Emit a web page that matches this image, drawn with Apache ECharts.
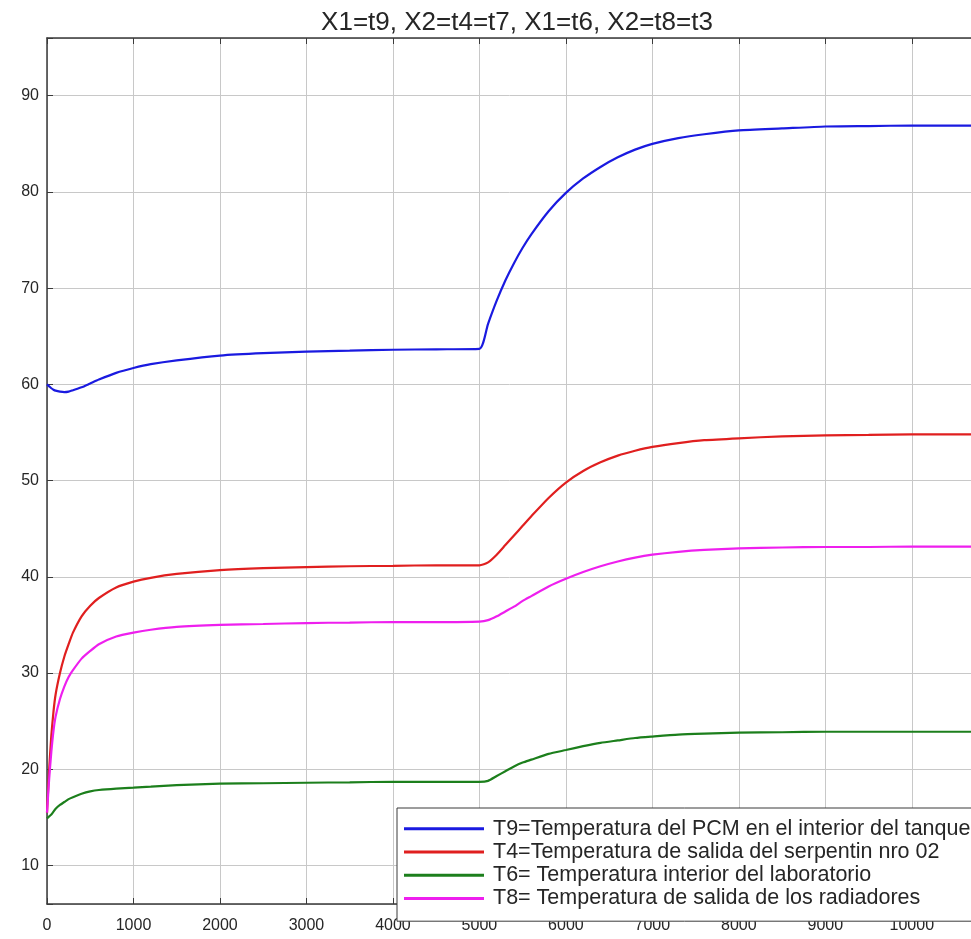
<!DOCTYPE html>
<html>
<head>
<meta charset="utf-8">
<title>Temperaturas</title>
<script src="https://cdn.jsdelivr.net/npm/echarts@6/dist/echarts.min.js"></script>
<style>
  html, body { margin: 0; padding: 0; background: #ffffff; overflow: hidden; }
  #chart { width: 971px; height: 939px; }
</style>
</head>
<body>
<div id="chart"></div>
<script>
// Simulation time (s)
const time = [0, 25, 50, 75, 100, 150, 200, 250, 300, 400, 500, 600, 800, 1000, 1200, 1500,
  2000, 2500, 3000, 3500, 4000, 4500, 5000, 5100, 5200, 5300, 5400, 5500, 5600, 5800,
  6000, 6200, 6400, 6600, 6800, 7000, 7300, 7600, 8000, 8500, 9000, 9500, 10000, 10800];

// T9: PCM temperature inside the tank
const t9 = [60.0, 59.8, 59.6, 59.45, 59.35, 59.25, 59.2, 59.25, 59.4, 59.7, 60.1, 60.5, 61.2, 61.7, 62.1, 62.5,
  63.0, 63.25, 63.4, 63.5, 63.6, 63.65, 63.7, 66.3, 68.7, 70.8, 72.6, 74.2, 75.6, 78.0,
  79.9, 81.4, 82.6, 83.6, 84.4, 85.0, 85.6, 86.0, 86.4, 86.6, 86.8, 86.85, 86.9, 86.9];

// T4: coil no. 02 outlet temperature
const t4 = [15.5, 20.0, 23.5, 26.0, 27.8, 30.0, 31.7, 33.0, 34.2, 35.9, 37.0, 37.8, 38.9, 39.5, 39.9, 40.3,
  40.7, 40.9, 41.0, 41.1, 41.15, 41.2, 41.2, 41.5, 42.3, 43.3, 44.3, 45.3, 46.3, 48.2,
  49.8, 51.0, 51.9, 52.6, 53.1, 53.5, 53.9, 54.2, 54.4, 54.6, 54.7, 54.75, 54.8, 54.8];

// T6: laboratory indoor temperature
const t6 = [14.9, 15.1, 15.3, 15.6, 15.9, 16.3, 16.6, 16.9, 17.1, 17.45, 17.7, 17.85, 18.0, 18.1, 18.2, 18.35,
  18.5, 18.55, 18.6, 18.65, 18.7, 18.7, 18.7, 18.8, 19.3, 19.8, 20.3, 20.7, 21.0, 21.6,
  22.0, 22.4, 22.75, 23.0, 23.25, 23.4, 23.6, 23.7, 23.8, 23.85, 23.9, 23.9, 23.9, 23.9];

// T8: radiator outlet temperature
const t8 = [15.5, 19.0, 21.8, 24.0, 25.5, 27.3, 28.6, 29.6, 30.3, 31.5, 32.3, 33.0, 33.8, 34.2, 34.5, 34.8,
  35.0, 35.1, 35.2, 35.25, 35.3, 35.3, 35.35, 35.5, 35.9, 36.4, 36.9, 37.5, 38.0, 39.0,
  39.8, 40.5, 41.1, 41.6, 42.0, 42.3, 42.6, 42.8, 42.95, 43.05, 43.1, 43.1, 43.15, 43.15];

const seriesNames = [
  'T9=Temperatura del PCM en el interior del tanque',
  'T4=Temperatura de salida del serpentin nro 02',
  'T6= Temperatura interior del laboratorio',
  'T8= Temperatura de salida de los radiadores'
];
const seriesValues = [t9, t4, t6, t8];
const seriesColors = ['#1a1ae0', '#e01f1f', '#1c7f1c', '#ee1fee'];

const titleText = 'X1=t9, X2=t4=t7, X1=t6, X2=t8=t3';

const xMin = 0, xMax = 10800, xStep = 1000;
const yMin = 6, yMax = 96;

const FONT = '"Liberation Sans", Arial, Helvetica, sans-serif';
const TEXT = '#262626';
const AXIS = '#3a3a3a';
const GRID = '#c8c8c8';

const chart = echarts.init(document.getElementById('chart'), null, { renderer: 'canvas' });

const pairs = (vals) => time.map((t, i) => [t, vals[i]]);

const yLabel = (v) => (v % 10 === 0 ? String(v) : '');
const xLabel = (v) => (v % 1000 === 0 ? String(v) : '');

chart.setOption({
  animation: false,
  backgroundColor: '#ffffff',
  title: {
    text: titleText,
    left: 512,
    top: 5,
    textAlign: 'center',
    textStyle: { fontFamily: FONT, fontSize: 26, fontWeight: 'normal', color: TEXT }
  },
  // the axes box runs a little past the right edge of the page
  grid: { left: 47, top: 38, width: 934, height: 866, outerBoundsMode: 'none' },
  xAxis: [{
    type: 'value',
    min: xMin, max: xMax, interval: xStep,
    axisLine: { show: true, onZero: false, lineStyle: { color: AXIS, width: 1.5 } },
    axisTick: { show: true, inside: true, length: 6, lineStyle: { color: AXIS } },
    axisLabel: { fontFamily: FONT, fontSize: 16, color: TEXT, margin: 14, formatter: xLabel },
    splitLine: { show: true, lineStyle: { color: GRID, width: 1 } }
  }, {
    type: 'value', position: 'top',
    min: xMin, max: xMax, interval: xStep,
    axisLine: { show: true, onZero: false, lineStyle: { color: AXIS, width: 1.5 } },
    axisTick: { show: true, inside: true, length: 6, lineStyle: { color: AXIS } },
    axisLabel: { show: false },
    splitLine: { show: false }
  }],
  yAxis: [{
    type: 'value',
    min: yMin, max: yMax, splitNumber: 9,
    axisLine: { show: true, onZero: false, lineStyle: { color: AXIS, width: 1.5 } },
    axisTick: { show: true, inside: true, length: 6, lineStyle: { color: AXIS } },
    axisLabel: { fontFamily: FONT, fontSize: 16, color: TEXT, margin: 8, formatter: yLabel },
    splitLine: { show: true, lineStyle: { color: GRID, width: 1 } }
  }],
  legend: {
    orient: 'vertical',
    left: 397, top: 808,
    padding: [9, 40, 11, 7],
    itemGap: 0,
    itemWidth: 80, itemHeight: 3,
    icon: 'rect',
    backgroundColor: '#ffffff',
    borderColor: AXIS, borderWidth: 1,
    textStyle: { fontFamily: FONT, fontSize: 21.5, color: TEXT, lineHeight: 23.3, padding: [0, 0, 0, 4] },
    data: seriesNames
  },
  series: seriesNames.map((name, i) => ({
    name,
    type: 'line',
    data: pairs(seriesValues[i]),
    showSymbol: false,
    smooth: 0.2,
    lineStyle: { color: seriesColors[i], width: 2.2 },
    itemStyle: { color: seriesColors[i] },
    z: 3
  }))
});
</script>
</body>
</html>
